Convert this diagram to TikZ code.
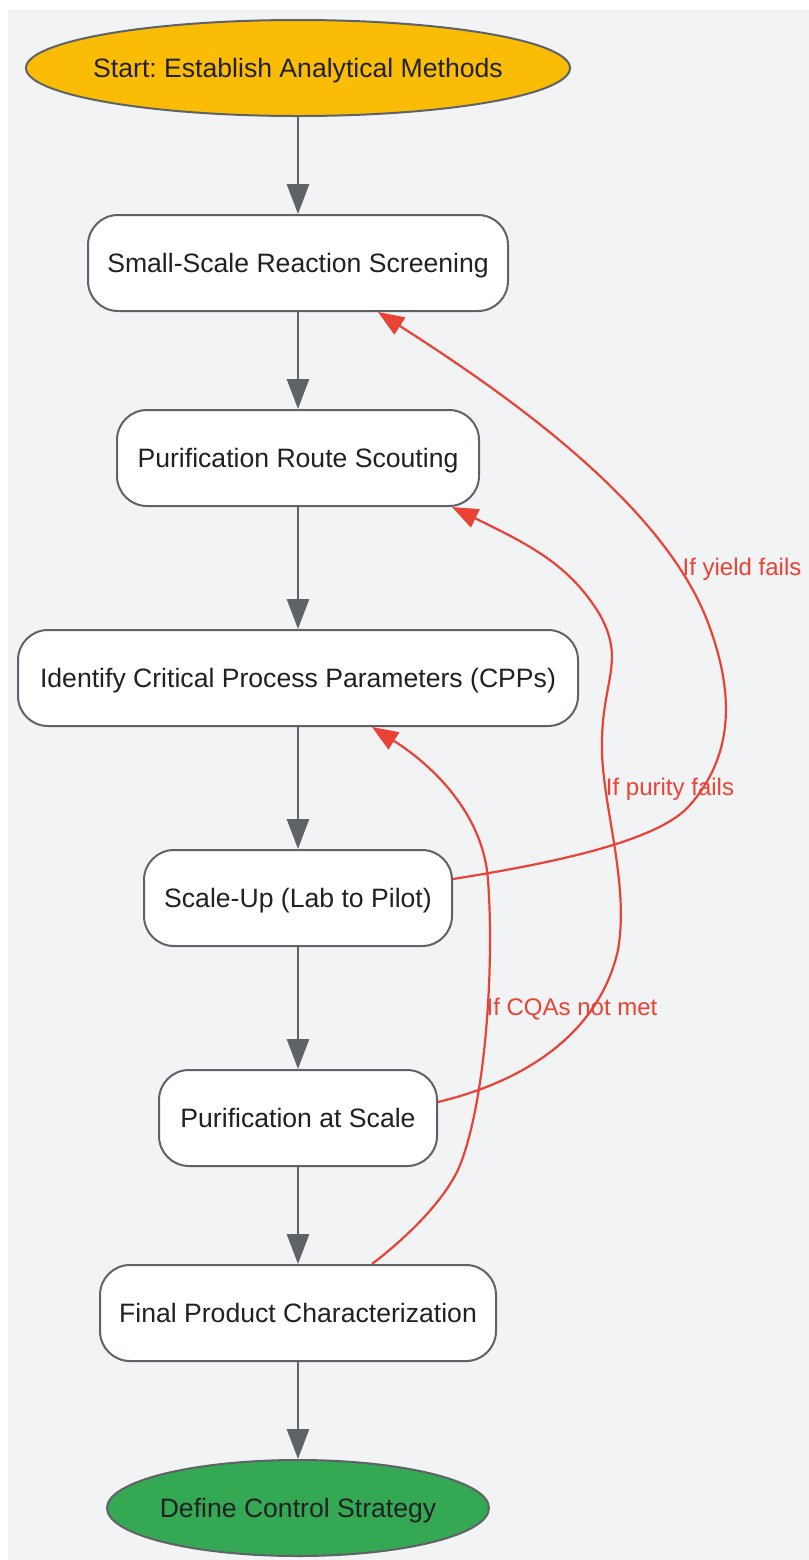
\documentclass[tikz,border=0pt]{standalone}
\usepackage{fontspec}
\setmainfont{Liberation Sans}
\usetikzlibrary{shapes.geometric,arrows.meta}
\frenchspacing
\definecolor{bgc}{HTML}{F1F3F5}
\definecolor{edgegray}{HTML}{5F6368}
\definecolor{startc}{HTML}{FBBC05}
\definecolor{endc}{HTML}{34A853}
\definecolor{redc}{HTML}{EA4335}
\definecolor{txtc}{HTML}{202124}
\tikzset{
  base/.style={draw=edgegray, line width=1pt, text=txtc, inner sep=0pt,
    font=\fontsize{13.3}{16}\selectfont, minimum height=48pt,
    text height=12pt, text depth=2.1pt},
  stepbox/.style={base, rectangle, rounded corners=15pt, fill=white},
  terminal/.style={base, ellipse},
  flow/.style={draw=edgegray, line width=1.4pt, -{Triangle[length=15pt,width=11pt]}},
  loopback/.style={draw=redc, line width=1.1pt, -{Triangle[length=13pt,width=10pt]}},
  lbl/.style={text=redc, font=\fontsize{12}{14}\selectfont, inner sep=0pt}
}
\begin{document}
\begin{tikzpicture}[x=0.5pt,y=-0.5pt]
\useasboundingbox (0,0) rectangle (809,1560);
\fill[bgc] (8,10) rectangle (809,1560);

\node[terminal, fill=startc, minimum width=272pt] (start) at (298,68) {\makebox[0pt]{Start: Establish Analytical Methods}};
\node[stepbox, minimum width=210pt] (n1) at (298,263) {Small-Scale Reaction Screening};
\node[stepbox, minimum width=181pt] (n2) at (298,458) {Purification Route Scouting};
\node[stepbox, minimum width=280pt] (n3) at (298,678) {Identify Critical Process Parameters (CPPs)};
\node[stepbox, minimum width=154pt] (n4) at (298,898) {Scale-Up (Lab to Pilot)};
\node[stepbox, minimum width=139pt] (n5) at (298,1118) {Purification at Scale};
\node[stepbox, minimum width=198pt] (n6) at (298,1313) {Final Product Characterization};
\node[terminal, fill=endc, minimum width=191pt] (end) at (298,1508) {\makebox[0pt]{Define Control Strategy}};

\draw[flow] (start) -- (n1);
\draw[flow] (n1) -- (n2);
\draw[flow] (n2) -- (n3);
\draw[flow] (n3) -- (n4);
\draw[flow] (n4) -- (n5);
\draw[flow] (n5) -- (n6);
\draw[flow] (n6) -- (end);

% If yield fails
\draw[loopback] ([yshift=9.5pt]n4.east) .. controls (560,862) and (660,840) .. (690,805)
  .. controls (740,748) and (730,680) .. (707,620)
  .. controls (660,500) and (500,390) .. ([xshift=40pt]n1.south);
\node[lbl] (l1) at (742,569) {If yield fails};

% If purity fails
\draw[loopback] ([yshift=8pt]n5.east) .. controls (530,1080) and (600,1030) .. (618,950)
  .. controls (630,880) and (600,800) .. (602,740)
  .. controls (603,680) and (625,660) .. (600,615)
  .. controls (570,565) and (530,545) .. ([xshift=77pt]n2.south);
\node[lbl] (l2) at (670,789) {If purity fails};

% If CQAs not met
\draw[loopback] ([xshift=37pt]n6.north) .. controls (410,1235) and (450,1195) .. (462,1160)
  .. controls (487,1090) and (494,960) .. (488,880)
  .. controls (484,820) and (440,770) .. ([xshift=37pt]n3.south);
\node[lbl] (l3) at (572,1009) {If CQAs not met};
\end{tikzpicture}
\end{document}
